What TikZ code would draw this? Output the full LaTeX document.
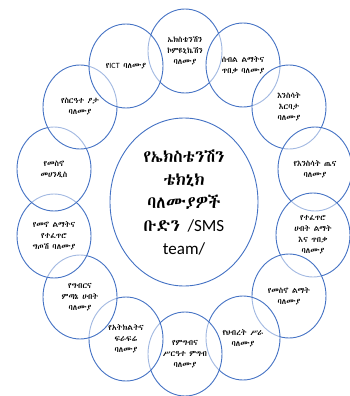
\documentclass[tikz,border=0pt]{standalone}
\usepackage{fontspec}
\usepackage{xcolor}
\usepackage{tikz}
\IfFontExistsTF{Abyssinica SIL}{\newfontfamily\ethfont{Abyssinica SIL}}{%
  \IfFontExistsTF{FreeSerif}{\newfontfamily\ethfont{FreeSerif}}{\newfontfamily\ethfont{DejaVu Sans}}}
\newfontfamily\latfont{Carlito}
\definecolor{ringblue}{HTML}{4472C4}
\tikzset{
  ring/.style={draw=ringblue, line width=0.9pt, fill=white, fill opacity=0.5},
  lab/.style={align=center, inner sep=0pt, font=\ethfont\fontsize{8}{11}\selectfont},
  hublab/.style={align=center, inner sep=0pt, font=\ethfont\fontsize{17}{23}\selectfont},
}

\begin{document}
\begin{tikzpicture}[x=1pt,y=-1pt]
  \useasboundingbox (0,0) rectangle (349,396);
  \coordinate (C) at (184,202);
  % the team in the middle
  \draw[ring] (C) ellipse (74 and 84);
  \node[hublab] (hub) at (C) {የኤክስቴንሽን\\ቴክኒክ\\ባለሙያዎች\\ቡድን {\latfont /SMS}\\{\latfont team/}};
  % the experts round it, clockwise from the top
  \foreach \pos/\txt [count=\i] in {
      {185,51}/{ኤክስቴንሽን\\ኮምዩኒኬሽን\\ባለሙያ},
      {243,65}/{ሰብል ልማትና\\ጥበቃ ባለሙያ},
      {289,107}/{እንስሳት\\እርባታ\\ባለሙያ},
      {315,169}/{የእንስሳት ጤና\\ባለሙያ},
      {313,235}/{የተፈጥሮ\\ሀብት ልማት\\እና ጥበቃ\\ባለሙያ},
      {289,296}/{የመስኖ ልማት\\ባለሙያ},
      {243,338}/{የህብረት ሥራ\\ባለሙያ},
      {185,354}/{የምግብና\\ሥርዓተ ምግብ\\ባለሙያ},
      {126,339}/{የአትክልትና\\ፍራፍሬ\\ባለሙያ},
      {80,297}/{የግብርና\\ምጣኔ ሀብት\\ባለሙያ},
      {54,236}/{የመኖ ልማትና\\የተፈጥሮ\\ግጦሽ ባለሙያ},
      {54,169}/{የመስኖ\\መሀንዲስ},
      {80,107}/{የስርዓተ ፆታ\\ባለሙያ},
      {126,66}/{የ{\latfont ICT} ባለሙያ}} {
    \draw[ring] (\pos) ellipse (37 and 42);
    \node[lab] (e\i) at (\pos) {\txt};
  }
\end{tikzpicture}
\end{document}
